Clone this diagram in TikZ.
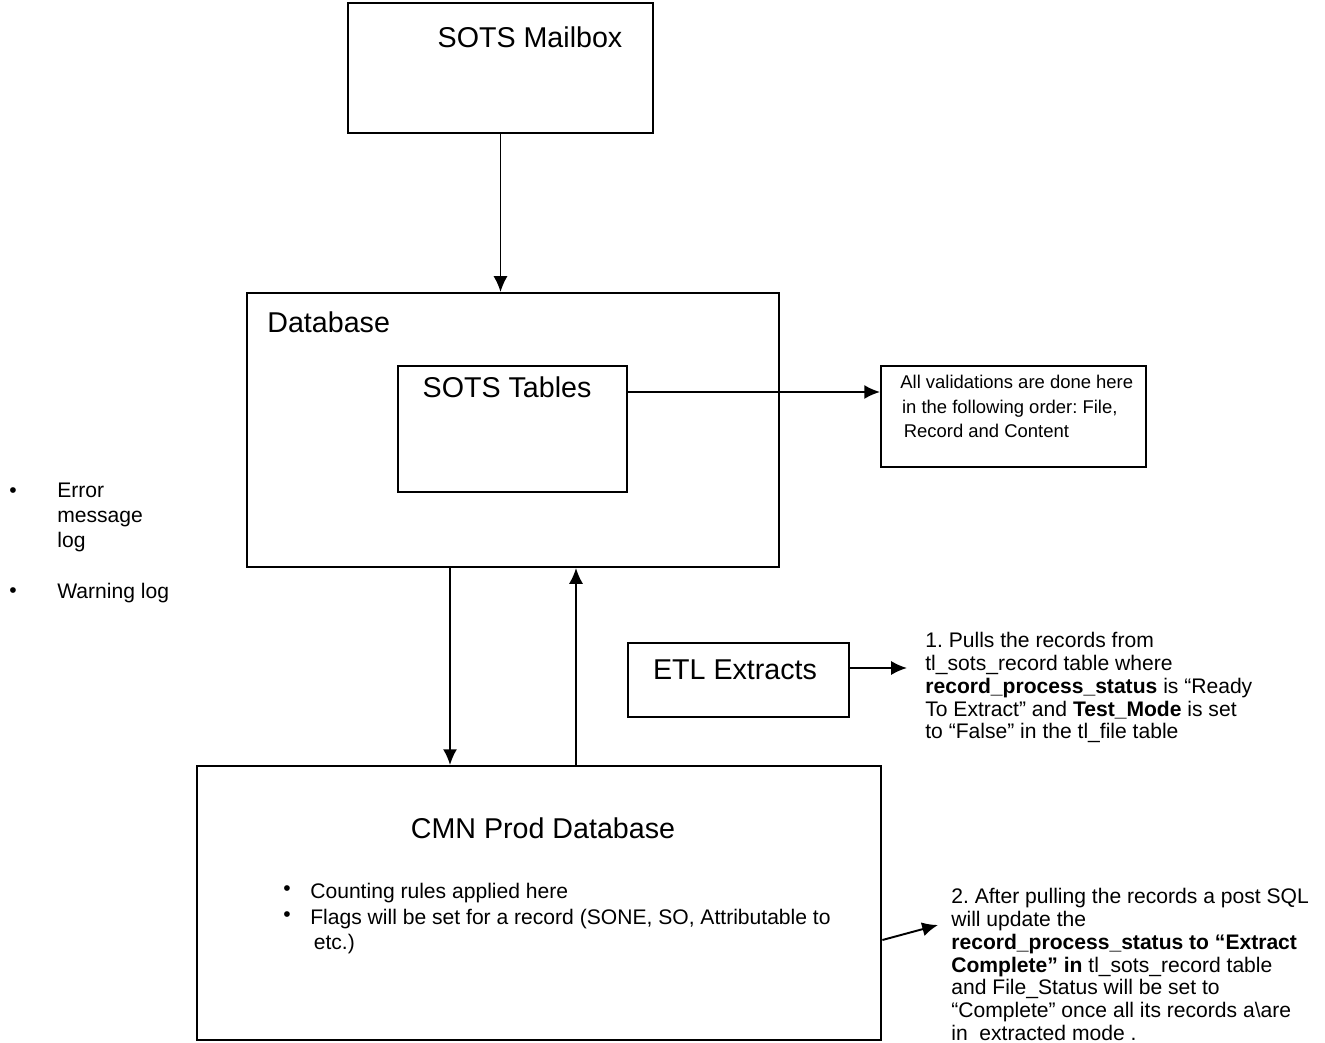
\documentclass[tikz,border=0pt]{standalone}
\usepackage{fontspec}
\setmainfont{Liberation Sans}
\usetikzlibrary{arrows.meta, positioning}
\frenchspacing

\begin{document}
\begin{tikzpicture}[x=0.02cm, y=-0.02cm,
  box/.style={draw, line width=1.1pt, inner sep=0pt},
  title/.style={font=\fontsize{16.3}{19}\selectfont, inner sep=0pt},
  note/.style={font=\fontsize{12}{13}\selectfont, align=left, inner sep=0pt, anchor=north west},
  bullet/.style={font=\fontsize{12}{13}\selectfont, inner sep=0pt},
  arr/.style={-{Latex[length=9pt, width=8pt]}, line width=1.1pt}]
  \useasboundingbox (0,0) rectangle (1325,1043);

  % boxes
  \node[box, minimum width=6.1cm, minimum height=2.6cm] (mailbox) at (500.5,68) {};
  \node[box, minimum width=10.64cm, minimum height=5.48cm] (db) at (513,430) {};
  \node[box, minimum width=4.58cm, minimum height=2.52cm] (tables) at (512.5,429) {};
  \node[box, minimum width=5.3cm, minimum height=2.02cm] (valid) at (1013.5,416.5) {};
  \node[box, minimum width=4.42cm, minimum height=1.48cm] (etl) at (738.5,680) {};
  \node[box, minimum width=13.7cm, minimum height=5.48cm] (cmn) at (539,903) {};

  % titles
  \node[title] (mailboxT) at (530,37) {SOTS Mailbox};
  \node[title, anchor=west] (dbT) at (267,322) {Database};
  \node[title] (tablesT) at (507,387) {SOTS Tables};
  \node[title] (etlT) at (735,670) {ETL Extracts};
  \node[title] (cmnT) at (543,828) {CMN Prod Database};

  % notes
  \node[note, font=\fontsize{10.5}{14}\selectfont] (validT) at (900,375)
    {All validations are done here\\\hspace{1pt}in the following order: File,\\\hspace{2pt}Record and Content};
  \node[note] (pulls) at (925,632)
    {1. Pulls the records from\\tl\_sots\_record table where\\\textbf{record\_process\_status} is “Ready\\To Extract” and \textbf{Test\_Mode} is set\\to “False” in the tl\_file table};
  \node[note] (after) at (951,888)
    {2. After pulling the records a post SQL\\will update the\\\textbf{record\_process\_status to “Extract}\\\textbf{Complete” in} tl\_sots\_record table\\and File\_Status will be set to\\“Complete” once all its records a\textbackslash are\\in\ \ extracted mode\ .};

  % side log list
  \node[note, font=\fontsize{12}{14}\selectfont] (errlog) at (57,483) {Error\\message\\log};
  \node[note] (warnlog) at (57,583) {Warning log};
  \node[bullet] (b1) at (13,493) {•};
  \node[bullet] (b2) at (13,593) {•};

  % rules in CMN
  \node[note] (count) at (310,883) {Counting rules applied here};
  \node[note, font=\fontsize{12}{14}\selectfont] (flags) at (310,909)
    {Flags will be set for a record (SONE, SO, Attributable to\\\hspace{2pt}etc.)};
  \node[bullet] (b3) at (287,891) {•};
  \node[bullet] (b4) at (287,917) {•};

  % connectors
  \coordinate (downX) at (450,0);
  \coordinate (upX) at (576,0);
  \coordinate (tabY) at (0,392);
  \coordinate (etlTip) at (907,668);
  \coordinate (cmnOut) at (0,940);
  \coordinate (afterTip) at (938,925);
  \draw[arr] (mailbox.south) -- (mailbox.south |- db.north);
  \draw[arr] (db.south -| downX) -- (cmn.north -| downX);
  \draw[arr] (cmn.north -| upX) -- (db.south -| upX);
  \draw[arr] (tables.east |- tabY) -- (valid.west |- tabY);
  \draw[arr] (etl.east |- etlTip) -- (etlTip);
  \draw[arr] (cmn.east |- cmnOut) -- (afterTip);
\end{tikzpicture}
\end{document}
